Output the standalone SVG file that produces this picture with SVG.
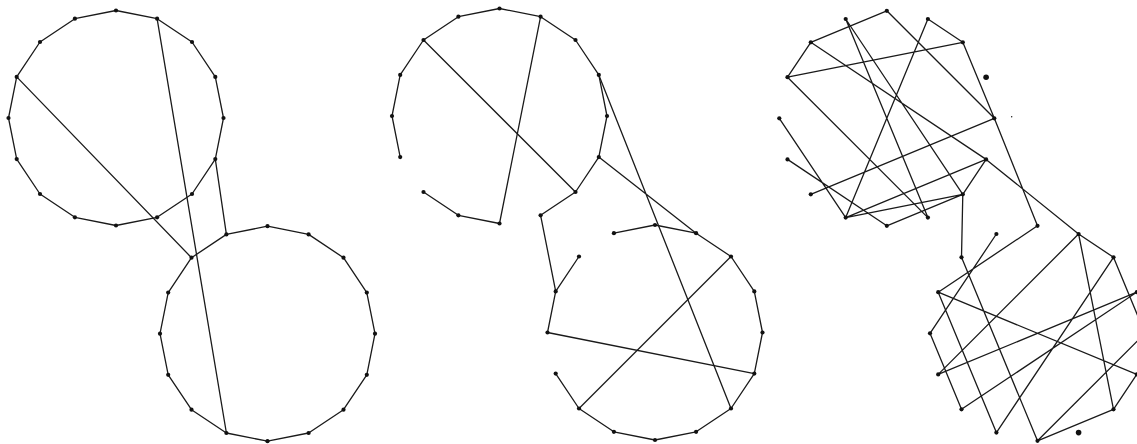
<svg xmlns="http://www.w3.org/2000/svg" width="1137" height="444" viewBox="0 0 1137 444">
<style>
.e{fill:none;stroke:#1a1a1a;stroke-width:1.3;stroke-linejoin:round}
.d circle{fill:#111}
</style>
<rect width="1137" height="444" fill="#fff"/>
<g id="connectors">
<!-- left panel -->
<polygon class="e" points="116,10.5 157.1,18.7 192,42 215.3,76.9 223.5,118 215.3,159.1 192,194 157.1,217.3 116,225.5 74.9,217.3 40,194 16.7,159.1 8.5,118 16.7,76.9 40,42 74.9,18.7"/>
<polygon class="e" points="267.5,226.2 308.6,234.4 343.5,257.7 366.8,292.6 375,333.7 366.8,374.8 343.5,409.7 308.6,433 267.5,441.2 226.4,433 191.5,409.7 168.2,374.8 160,333.7 168.2,292.6 191.5,257.7 226.4,234.4"/>
<path class="e" d="M215.3,159.1L226.4,234.4M157.1,18.7L226.4,433M16.7,76.9L191.5,257.7"/>
<!-- middle panel -->
<polyline class="e" points="400.2,157.1 392,116 400.2,74.9 423.5,40 458.4,16.7 499.5,8.5 540.6,16.7 575.5,40 598.8,74.9 607,116 598.8,157.1 575.5,192 540.6,215.3"/>
<polyline class="e" points="423.5,192 458.4,215.3 499.5,223.5 540.6,16.7"/>
<path class="e" d="M423.5,40L575.5,192M598.8,74.9L731,408.5M598.8,157.1L696.1,233.2M540.6,215.3L555.7,291.4"/>
<polyline class="e" points="613.9,233.2 655,225 696.1,233.2 731,256.5 754.3,291.4 762.5,332.5 754.3,373.6 731,408.5 696.1,431.8 655,440 613.9,431.8 579,408.5 555.7,373.6"/>
<polyline class="e" points="579,256.5 555.7,291.4 547.5,332.5 754.3,373.6"/>
<path class="e" d="M579,408.5L731,256.5"/>
<!-- right panel -->
<path class="e" d="M810.8,42.3L886.8,10.8M810.8,42.3L787.5,77.2M787.5,77.2L962.8,42.3M787.5,77.2L927.9,217.6M810.8,42.3L986.1,159.4M845.7,19L927.9,217.6M845.7,19L962.8,194.3M927.9,19L845.7,217.6M927.9,19L962.8,42.3M886.8,10.8L994.3,118.3M962.8,42.3L994.3,118.3M994.3,118.3L1037.5,225.8M779.3,118.3L845.7,217.6M787.5,159.4L886.8,225.8M810.8,194.3L994.3,118.3M845.7,217.6L986.1,159.4M845.7,217.6L962.8,194.3M886.8,225.8L962.8,194.3M962.8,194.3L986.1,159.4M962.8,194.3L961.5,257.3M986.1,159.4L1078.6,234"/>
<path class="e" d="M1037.5,225.8L938.2,292.2M996.4,234L930,333.3M961.5,257.3L1037.5,440.8M938.2,292.2L1136.8,374.4M938.2,292.2L996.4,432.6M1078.6,234L938.2,374.4M1078.6,234L1113.5,409.3M1078.6,234L1113.5,257.3M1113.5,257.3L1145,333.3M1113.5,257.3L996.4,432.6M1136.8,292.2L938.2,374.4M1136.8,292.2L961.5,409.3M1145,333.3L1037.5,440.8M1136.8,374.4L1113.5,409.3M1113.5,409.3L1037.5,440.8M930,333.3L961.5,409.3"/>
</g>
<g id="left-nodes" class="d">
<circle cx="116" cy="10.5" r="2.1"/><circle cx="157.1" cy="18.7" r="2.1"/><circle cx="192" cy="42" r="2.1"/><circle cx="215.3" cy="76.9" r="2.1"/><circle cx="223.5" cy="118" r="2.1"/><circle cx="215.3" cy="159.1" r="2.1"/><circle cx="192" cy="194" r="2.1"/><circle cx="157.1" cy="217.3" r="2.1"/><circle cx="116" cy="225.5" r="2.1"/><circle cx="74.9" cy="217.3" r="2.1"/><circle cx="40" cy="194" r="2.1"/><circle cx="16.7" cy="159.1" r="2.1"/><circle cx="8.5" cy="118" r="2.1"/><circle cx="16.7" cy="76.9" r="2.1"/><circle cx="40" cy="42" r="2.1"/><circle cx="74.9" cy="18.7" r="2.1"/>
<circle cx="267.5" cy="226.2" r="2.1"/><circle cx="308.6" cy="234.4" r="2.1"/><circle cx="343.5" cy="257.7" r="2.1"/><circle cx="366.8" cy="292.6" r="2.1"/><circle cx="375" cy="333.7" r="2.1"/><circle cx="366.8" cy="374.8" r="2.1"/><circle cx="343.5" cy="409.7" r="2.1"/><circle cx="308.6" cy="433" r="2.1"/><circle cx="267.5" cy="441.2" r="2.1"/><circle cx="226.4" cy="433" r="2.1"/><circle cx="191.5" cy="409.7" r="2.1"/><circle cx="168.2" cy="374.8" r="2.1"/><circle cx="160" cy="333.7" r="2.1"/><circle cx="168.2" cy="292.6" r="2.1"/><circle cx="191.5" cy="257.7" r="2.1"/><circle cx="226.4" cy="234.4" r="2.1"/>
</g>
<g id="middle-nodes" class="d">
<circle cx="499.5" cy="8.5" r="2.1"/><circle cx="540.6" cy="16.7" r="2.1"/><circle cx="575.5" cy="40" r="2.1"/><circle cx="598.8" cy="74.9" r="2.1"/><circle cx="607" cy="116" r="2.1"/><circle cx="598.8" cy="157.1" r="2.1"/><circle cx="575.5" cy="192" r="2.1"/><circle cx="540.6" cy="215.3" r="2.1"/><circle cx="499.5" cy="223.5" r="2.1"/><circle cx="458.4" cy="215.3" r="2.1"/><circle cx="423.5" cy="192" r="2.1"/><circle cx="400.2" cy="157.1" r="2.1"/><circle cx="392" cy="116" r="2.1"/><circle cx="400.2" cy="74.9" r="2.1"/><circle cx="423.5" cy="40" r="2.1"/><circle cx="458.4" cy="16.7" r="2.1"/>
<circle cx="655" cy="225" r="2.1"/><circle cx="696.1" cy="233.2" r="2.1"/><circle cx="731" cy="256.5" r="2.1"/><circle cx="754.3" cy="291.4" r="2.1"/><circle cx="762.5" cy="332.5" r="2.1"/><circle cx="754.3" cy="373.6" r="2.1"/><circle cx="731" cy="408.5" r="2.1"/><circle cx="696.1" cy="431.8" r="2.1"/><circle cx="655" cy="440" r="2.1"/><circle cx="613.9" cy="431.8" r="2.1"/><circle cx="579" cy="408.5" r="2.1"/><circle cx="555.7" cy="373.6" r="2.1"/><circle cx="547.5" cy="332.5" r="2.1"/><circle cx="555.7" cy="291.4" r="2.1"/><circle cx="579" cy="256.5" r="2.1"/><circle cx="613.9" cy="233.2" r="2.1"/>
</g>
<g id="right-nodes" class="d">
<circle cx="886.8" cy="10.8" r="2.1"/><circle cx="927.9" cy="19" r="2.1"/><circle cx="962.8" cy="42.3" r="2.1"/><circle cx="986.1" cy="77.2" r="2.8"/><circle cx="994.3" cy="118.3" r="2.1"/><circle cx="986.1" cy="159.4" r="2.1"/><circle cx="962.8" cy="194.3" r="2.1"/><circle cx="927.9" cy="217.6" r="2.1"/><circle cx="886.8" cy="225.8" r="2.1"/><circle cx="845.7" cy="217.6" r="2.1"/><circle cx="810.8" cy="194.3" r="2.1"/><circle cx="787.5" cy="159.4" r="2.1"/><circle cx="779.3" cy="118.3" r="2.1"/><circle cx="787.5" cy="77.2" r="2.1"/><circle cx="810.8" cy="42.3" r="2.1"/><circle cx="845.7" cy="19" r="2.1"/>
<circle cx="1011.7" cy="116.7" r="0.7"/>
<circle cx="1037.5" cy="225.8" r="2.1"/><circle cx="1078.6" cy="234" r="2.1"/><circle cx="1113.5" cy="257.3" r="2.1"/><circle cx="1136.8" cy="292.2" r="2.1"/><circle cx="1136.8" cy="374.4" r="2.1"/><circle cx="1113.5" cy="409.3" r="2.1"/><circle cx="1078.6" cy="432.6" r="2.8"/><circle cx="1037.5" cy="440.8" r="2.1"/><circle cx="996.4" cy="432.6" r="2.1"/><circle cx="961.5" cy="409.3" r="2.1"/><circle cx="938.2" cy="374.4" r="2.1"/><circle cx="930" cy="333.3" r="2.1"/><circle cx="938.2" cy="292.2" r="2.1"/><circle cx="961.5" cy="257.3" r="2.1"/><circle cx="996.4" cy="234" r="2.1"/>
</g>
</svg>
